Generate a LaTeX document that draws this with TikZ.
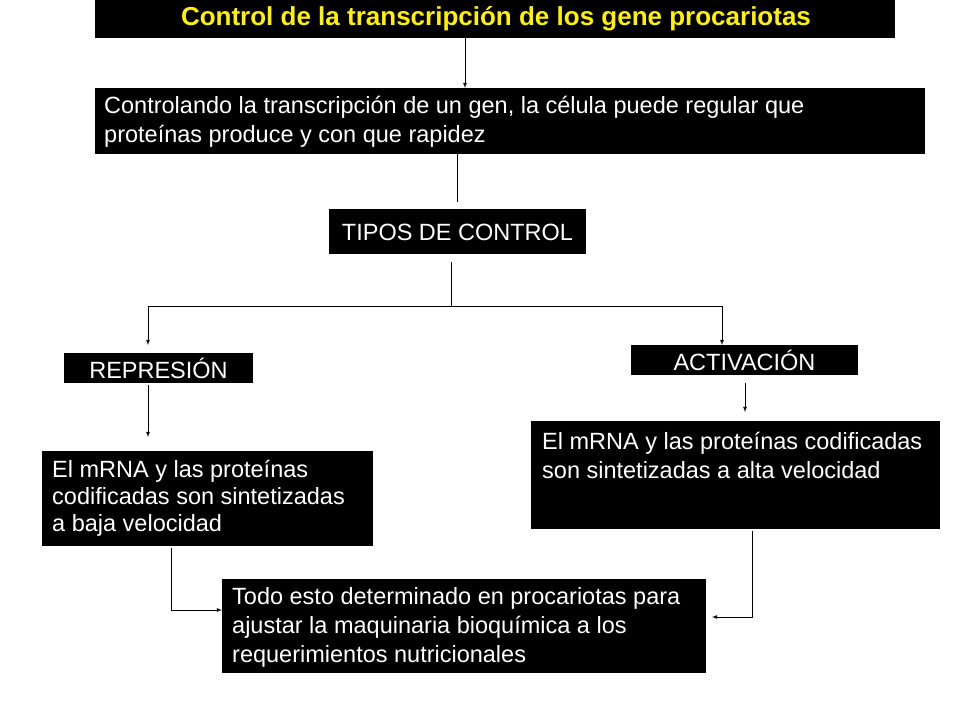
\documentclass[tikz,border=0pt]{standalone}
\usepackage{fontspec}
\setmainfont{Liberation Sans}
\begin{document}
\begin{tikzpicture}[x=1pt,y=-1pt,
 bx/.style={text=white,font=\fontsize{23.5}{29}\selectfont,inner sep=0pt},
 ln/.style={draw=black,line width=0.8pt},
 ar/.style={ln,-latex}]
\useasboundingbox (0,0) rectangle (960,720);
\fill[white] (0,0) rectangle (960,720);
\fill (95,0) rectangle (895,38);
\node[text=yellow,font=\bfseries\fontsize{26}{30}\selectfont] (t) at (496,19) {Control de la transcripción de los gene procariotas};
\fill (95,88) rectangle (925,154);
\node[bx,anchor=west,align=left] (b2) at (104,122) {Controlando la transcripción de un gen, la célula puede regular que\\proteínas produce y con que rapidez};
\fill (329,209) rectangle (586,254);
\node[bx] (tc) at (457.5,232) {TIPOS DE CONTROL};
\fill (64,353) rectangle (253,383);
\node[bx] (rep) at (158.5,368) {REPRESIÓN};
\fill (631,345) rectangle (858,375);
\node[bx] (act) at (744.5,360) {ACTIVACIÓN};
\fill (42,451) rectangle (373,546);
\node[bx,anchor=west,align=left,font=\fontsize{23.5}{27}\selectfont] (bl) at (52,498) {El mRNA y las proteínas\\codificadas son sintetizadas\\a baja velocidad};
\fill (531,421) rectangle (940,529);
\node[bx,anchor=west,align=left] (br) at (542,455) {El mRNA y las proteínas codificadas\\son sintetizadas a alta velocidad};
\fill (222,579) rectangle (706,673);
\node[bx,anchor=west,align=left] (bb) at (232,627) {Todo esto determinado en procariotas para\\ajustar la maquinaria bioquímica a los\\requerimientos nutricionales};
\coordinate (a1) at (465,38); \coordinate (a2) at (465,88);
\draw[ar] (a1) -- (a2);
\coordinate (c1) at (457,154); \coordinate (c2) at (457,202);
\draw[ln] (c1) -- (c2);
\coordinate (d1) at (451,262); \coordinate (d2) at (451,306);
\coordinate (dl) at (148,306); \coordinate (dr) at (722,306);
\coordinate (el) at (148,345); \coordinate (er) at (722,345);
\draw[ln] (d1) -- (d2);
\draw[ar] (d2) -- (dl) -- (el);
\draw[ar] (d2) -- (dr) -- (er);
\coordinate (f1) at (148,385); \coordinate (f2) at (148,437);
\draw[ar] (f1) -- (f2);
\coordinate (g1) at (745,383); \coordinate (g2) at (745,412);
\draw[ar] (g1) -- (g2);
\coordinate (h1) at (171,548); \coordinate (h2) at (171,610); \coordinate (h3) at (222,610);
\draw[ar] (h1) -- (h2) -- (h3);
\coordinate (k1) at (752,531); \coordinate (k2) at (752,617); \coordinate (k3) at (712,617);
\draw[ar] (k1) -- (k2) -- (k3);
\end{tikzpicture}
\end{document}
